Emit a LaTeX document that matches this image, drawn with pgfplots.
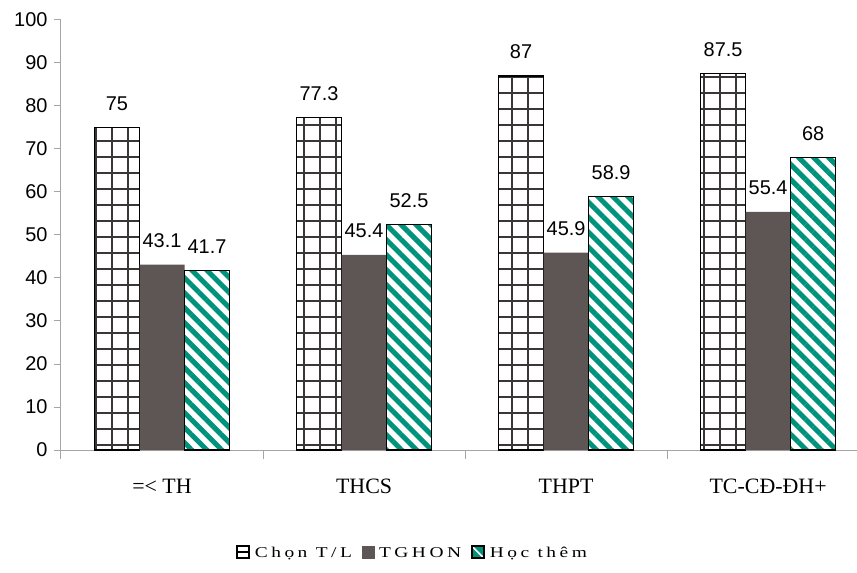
\documentclass[border=0pt]{standalone}
\usepackage{fontspec}
\setmainfont{Liberation Serif}
\newfontfamily\sansfont{Liberation Sans}
\newfontfamily\legendfont[LetterSpace=18]{Liberation Serif}
\usepackage{graphicx}
\usepackage{pgfplots}
\usepackage{pgfplotstable}
\pgfplotsset{compat=1.18}
\usetikzlibrary{patterns.meta}

\definecolor{gridline}{HTML}{3A3636}
\definecolor{tghon}{HTML}{5E5654}
\definecolor{hocteal}{HTML}{00937C}
\definecolor{axisgray}{HTML}{A8A4A4}

% wide legend lettering
\newcommand{\legtext}[1]{\scalebox{1.3}[1]{#1}}

% share of each group, by education level
\pgfplotstableread{
x  chon  tghon  hoc
0  75    43.1   41.7
1  77.3  45.4   52.5
2  87    45.9   58.9
3  87.5  55.4   68
}\datatable

\begin{document}
\begin{tikzpicture}
\useasboundingbox (-61bp,-123bp) rectangle (796bp,450bp);
\begin{axis}[
  at={(0,0)}, anchor=south west,
  scale only axis, width=796bp, height=430bp,
  xmin=-0.5, xmax=3.44, ymin=0, ymax=100,
  axis lines*=left,
  axis line style={axisgray, line width=1bp},
  ytick={0,10,...,100},
  xtick={0,1,2,3},
  xticklabels={=< TH, THCS, THPT, TC-CĐ-ĐH+},
  major x tick style={draw=none},
  minor xtick={-0.5,0.5,1.5,2.5},
  minor tick length=9bp,
  major tick length=7bp,
  tick align=outside,
  tick style={axisgray, line width=1bp},
  /pgf/number format/assume math mode=true,
  yticklabel style={font=\sansfont\fontsize{20}{22}\selectfont, xshift=-3bp},
  xticklabel style={font=\fontsize{22}{24}\selectfont, anchor=base, yshift=-36bp},
  ybar, bar width=0.2228,
  nodes near coords,
  nodes near coords style={font=\sansfont\fontsize{20}{22}\selectfont, anchor=base, yshift=17bp, black},
  legend style={at={(0.4416,-0.2395)}, anchor=center, draw=none, fill=none,
    font=\legendfont\fontsize{15}{17}\selectfont, legend columns=3,
    /tikz/every even column/.append style={column sep=8bp},
    legend cell align=left},
]
\addplot[forget plot, bar shift=-0.2228, draw=black, line width=1.3bp,
  pattern={Hatch[angle=0, distance=16bp, line width=1.4bp]}, pattern color=gridline]
  table[x=x, y=chon] {\datatable};
\addplot[forget plot, bar shift=0, draw=none, fill=tghon]
  table[x=x, y=tghon] {\datatable};
\addplot[forget plot, bar shift=0.2228, draw=black, line width=1.3bp,
  pattern={Lines[angle=-45, distance=10.6bp, line width=5bp]}, pattern color=hocteal]
  table[x=x, y=hoc] {\datatable};

\addlegendimage{legend image code/.code={
    \path[draw=none, fill=none] (0bp,0bp) (16bp,0bp);
    \draw[black, line width=1.4bp] (0bp,-5bp) rectangle (12bp,7bp);
    \draw[black, line width=1.4bp] (0bp,1bp) -- (12bp,1bp);}}
\addlegendentry{\legtext{Chọn T/L}}
\addlegendimage{legend image code/.code={
    \path[draw=none, fill=none] (0bp,0bp) (15bp,0bp);
    \fill[tghon] (0bp,-5bp) rectangle (12bp,7bp);}}
\addlegendentry{\legtext{TGHON}}
\addlegendimage{legend image code/.code={
    \path[draw=none, fill=none] (0bp,0bp) (16bp,0bp);
    \fill[hocteal] (0bp,-5bp) rectangle (12bp,7bp);
    \draw[white, line width=1.6bp] (1bp,6bp) -- (11bp,-4bp);
    \draw[black, line width=1.5bp] (0bp,-5bp) rectangle (12bp,7bp);}}
\addlegendentry{\legtext{Học thêm}}
\end{axis}
\end{tikzpicture}
\end{document}
